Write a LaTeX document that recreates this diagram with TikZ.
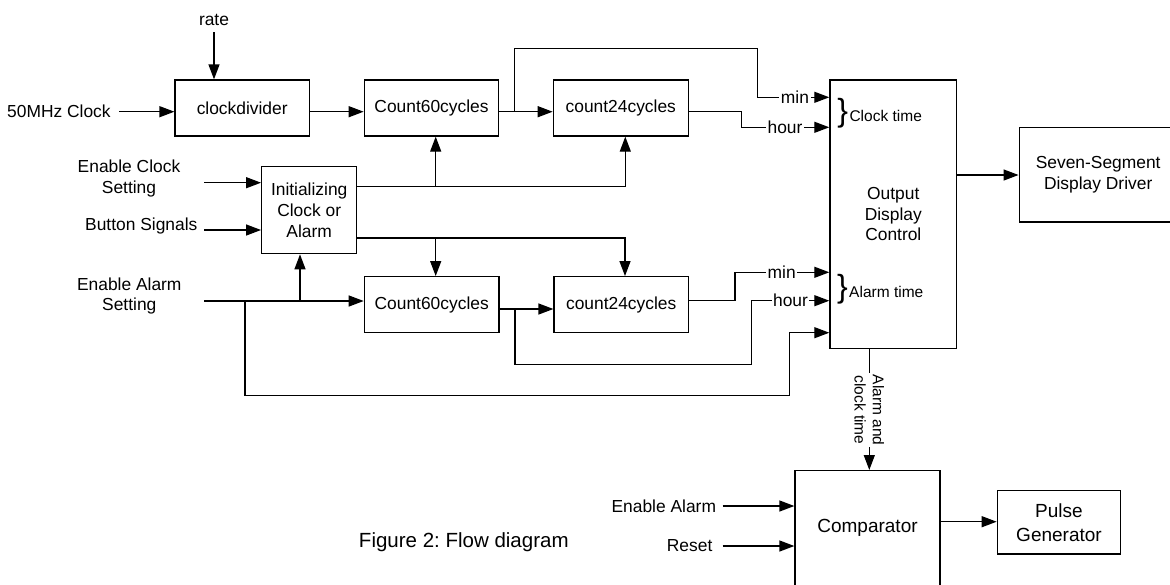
\documentclass[tikz,border=0pt]{standalone}
\usepackage{fontspec}
\setmainfont{Liberation Sans}
\usetikzlibrary{arrows.meta,calc}
\frenchspacing
\begin{document}
\begin{tikzpicture}[x=1pt,y=-1pt, line width=1.3pt,
  arr/.style={-{Triangle[length=15pt,width=11pt]}},
  blk/.style={draw, inner sep=0pt, align=center, font=\fontsize{17.4}{20.6}\selectfont},
  bigblk/.style={blk, font=\fontsize{19}{24}\selectfont},
  lbl/.style={inner sep=0pt, align=center, font=\fontsize{17.4}{20.8}\selectfont},
  sig/.style={fill=white, inner xsep=1.5pt, inner ysep=0pt, font=\fontsize{17.4}{20}\selectfont},
  small/.style={inner sep=0pt, font=\fontsize{15.5}{18.3}\selectfont},
  brc/.style={inner sep=0pt, anchor=base west}]
\useasboundingbox (0,0) rectangle (1170,584);
\clip (0,0) rectangle (1170,584);

% blocks
\node[blk, minimum width=134.3pt, minimum height=56pt] (cdiv) at (242.2,108) {clockdivider};
\node[blk, minimum width=134.4pt, minimum height=56pt] (c60a) at (431.5,108) {Count60cycles};
\node[blk, minimum width=135pt, minimum height=56pt] (c24a) at (620.8,108) {count24cycles};
\node[blk, minimum width=95pt, minimum height=87pt] (init) at (309.2,210.2) {Initializing\\Clock or\\Alarm};
\node[blk, minimum width=134.7pt, minimum height=56pt] (c60b) at (431.7,304.7) {Count60cycles};
\node[blk, minimum width=134.3pt, minimum height=56pt] (c24b) at (621.2,304.7) {count24cycles};
\node[blk, minimum width=126.7pt, minimum height=268.3pt] (odc) at (893.3,214.2) {Output\\Display\\Control};
\node[blk, minimum width=158pt, minimum height=94.3pt] (seg) at (1098.2,174.9) {Seven-Segment\\Display Driver};
\node[bigblk, minimum width=145pt, minimum height=115.3pt] (comp) at (867.5,528.3) {Comparator};
\node[bigblk, minimum width=123.4pt, minimum height=63.3pt] (pulse) at (1059,522.3) {Pulse\\Generator};

% external labels
\node[lbl] (rate) at (214,20) {rate};
\node[lbl, anchor=east] (mhz) at (111.3,111.7) {50MHz Clock};
\node[lbl] (ecs) at (129,178.5) {Enable Clock\\Setting};
\node[lbl] (bsig) at (141.3,226) {Button Signals};
\node[lbl] (eas) at (129.3,296) {Enable Alarm\\Setting};
\node[lbl, anchor=east] (ealarm) at (716.7,506) {Enable Alarm};
\node[lbl, anchor=east] (reset) at (713,546) {Reset};
\node[inner sep=0pt, font=\fontsize{20.5}{24}\selectfont] (cap) at (463.8,541.7) {Figure 2: Flow diagram};

% coordinates
\coordinate (rateo) at (214,32);
\coordinate (mhzo) at (119.3,111.7);
\coordinate (r1) at (0,111.7);
\coordinate (j1) at (514.3,111.7);
\coordinate (k1) at (757.7,48.3);
\coordinate (m1) at (0,97.3);
\coordinate (k2) at (741.7,127.3);
\coordinate (u1) at (435.7,186.7);
\coordinate (u2) at (625.3,186.7);
\coordinate (d1) at (435.7,238);
\coordinate (d2) at (625,238);
\coordinate (ecso) at (204.3,182.7);
\coordinate (bso) at (204.3,230);
\coordinate (easo) at (204.3,301);
\coordinate (ja) at (300,301);
\coordinate (jb) at (245,301);
\coordinate (kb) at (789.3,395.7);
\coordinate (m3) at (0,332.7);
\coordinate (r2) at (0,309);
\coordinate (jc) at (515,309);
\coordinate (kc) at (751.7,364.3);
\coordinate (m4) at (0,300.7);
\coordinate (kd) at (735,272.3);
\coordinate (r3) at (0,175);
\coordinate (v) at (869.3,0);
\coordinate (eao) at (722.7,506);
\coordinate (rso) at (722.7,546);
\coordinate (r4) at (0,521.7);

% connectors: top row
\draw[arr] (rateo) -- (cdiv.north-|rateo);
\draw[arr] (mhzo) -- (cdiv.west|-mhzo);
\draw[arr] (cdiv.east|-r1) -- (c60a.west|-r1);
\draw[arr] (c60a.east|-r1) -- (c24a.west|-r1);
\draw[arr] (j1) |- (k1) |- (odc.west|-m1);
\node[sig] (mn1) at (795,97.3) {min};
\draw[arr] (c24a.east|-r1) -| (k2) -- (odc.west|-k2);
\node[sig] (hr1) at (785,127.3) {hour};

% initializing block
\draw[arr] (ecso) -- (init.west|-ecso);
\draw[arr] (bso) -- (init.west|-bso);
\draw[arr] (init.east|-u1) -| (c24a.south-|u2);
\draw[arr] (u1) -- (c60a.south-|u1);
\draw[arr] (init.east|-d1) -| (c24b.north-|d2);
\draw[arr] (d1) -- (c60b.north-|d1);

% alarm row
\draw[arr] (easo) -- (c60b.west|-easo);
\draw[arr] (ja) -- (init.south-|ja);
\draw[arr] (jb) |- (kb) |- (odc.west|-m3);
\draw[arr] (c60b.east|-r2) -- (c24b.west|-r2);
\draw[arr] (jc) |- (kc) |- (odc.west|-m4);
\node[sig] (hr2) at (790.5,300.7) {hour};
\draw[arr] (c24b.east|-m4) -| (kd) -- (odc.west|-kd);
\node[sig] (mn2) at (781.7,272.3) {min};

% braces
\node[brc] (ctime) at (836.7,121.7) {{\fontsize{32}{32}\selectfont\}}\hspace{1.5pt}{\fontsize{15.5}{18}\selectfont Clock time}};
\node[brc] (atime) at (836.4,297.7) {{\fontsize{32}{32}\selectfont\}}\hspace{1.5pt}{\fontsize{15.5}{18}\selectfont Alarm time}};

% outputs
\draw[arr] (odc.east|-r3) -- (seg.west|-r3);
\draw[arr] (odc.south-|v) -- (comp.north-|v);
\node[small, fill=white, rotate=-90, align=center, inner xsep=2pt] (act) at (869.3,410) {Alarm and\\clock time};
\draw[arr] (eao) -- (comp.west|-eao);
\draw[arr] (rso) -- (comp.west|-rso);
\draw[arr] (comp.east|-r4) -- (pulse.west|-r4);
\end{tikzpicture}
\end{document}
